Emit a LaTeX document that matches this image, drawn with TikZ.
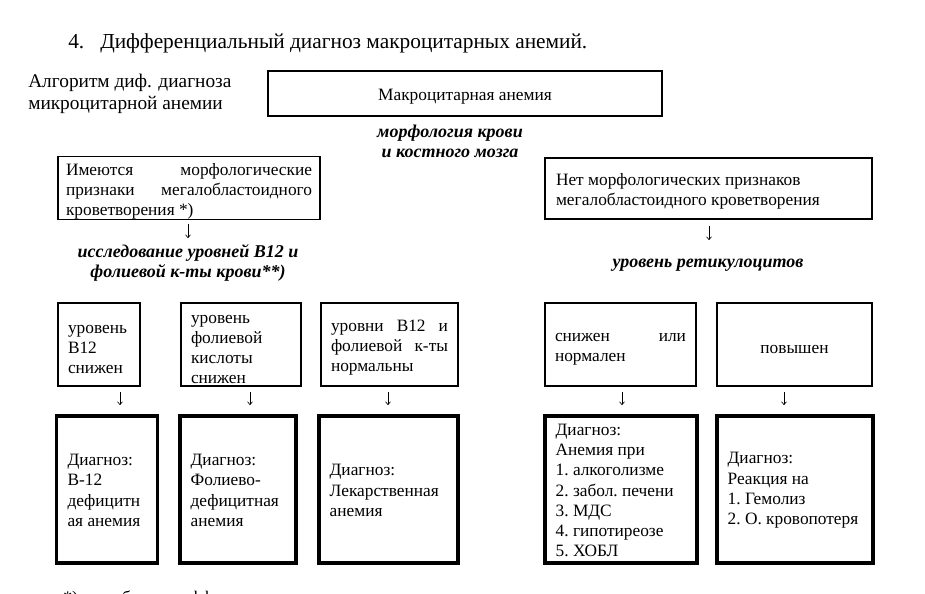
\documentclass[tikz,border=0pt]{standalone}
\usepackage{fontspec}
\setmainfont{Liberation Serif}
\usetikzlibrary{arrows.meta, positioning}

\begin{document}
\begin{tikzpicture}[x=0.75pt, y=-0.75pt,
thinbox/.style={rectangle, draw=black, line width=0.8pt, inner xsep=7.5pt, inner ysep=0pt,
font=\fontsize{13}{15}\selectfont, align=flush left, execute at begin node={\rule{0pt}{14pt}}},
thickbox/.style={rectangle, draw=black, line width=2.3pt, inner xsep=8pt, inner ysep=0pt,
minimum height=110.25pt, font=\fontsize{13}{15.2}\selectfont, align=flush left,
execute at begin node={\rule{0pt}{10pt}}},
plain/.style={inner sep=0pt, font=\fontsize{14.5}{16.5}\selectfont, align=left},
step note/.style={inner sep=0pt, font=\fontsize{13.5}{15}\selectfont\bfseries\itshape, align=center},
arrow/.style={-{To[length=2.6pt,width=4pt]}, line width=0.5pt}]
\useasboundingbox (0,0) rectangle (925,593);
\clip (0,0) rectangle (925,593);
\node[plain, anchor=base west, font=\fontsize{16}{19}\selectfont] (title) at (68,48)
    {4.\hspace{0.75em}Дифференциальный диагноз макроцитарных анемий.};
\node[plain, anchor=west] (algo) at (28,94)
    {Алгоритм диф. диагноза\\микроцитарной анемии};
\node[thinbox, minimum width=295.5pt, minimum height=33.75pt, align=center] (macro) at (465,93.5)
    {Макроцитарная анемия};
\node[step note] (morph) at (450,141) {морфология крови\\и костного мозга};
% left branch
\node[thinbox, text width=184.5pt, inner xsep=6pt, minimum height=46.5pt] (megaYes) at (189,188)
    {Имеются\hfill морфологические\\признаки\hfill мегалобластоидного\\кроветворения *)};
\node[step note] (study) at (188,263)
    {исследование уровней B12 и\\фолиевой к-ты крови**)};
% right branch
\node[thinbox, text width=228.75pt, inner xsep=8.25pt, minimum height=45.75pt] (megaNo) at (708.5,188.5)
    {Нет морфологических признаков\\мегалобластоидного кроветворения};
\node[step note] (retic) at (708,265) {уровень ретикулоцитов};
\coordinate (s1) at (188,224);
\coordinate (e1) at (188,238);
\coordinate (s2) at (709,226);
\coordinate (e2) at (709,240);
\draw[arrow] (s1) -- (e1);
\draw[arrow] (s2) -- (e2);
% levels
\node[thinbox, text width=46.5pt, minimum height=62.25pt] (lowB) at (99,344.5)
    {уровень\\B12\\снижен};
\node[thinbox, text width=75pt, minimum height=62.25pt] (lowF) at (241,344.5)
    {уровень\\фолиевой\\кислоты\\снижен};
\node[thinbox, text width=87.75pt, minimum height=62.25pt] (normBF) at (389.5,344.5)
    {уровни\hfill B12\hfill и\\фолиевой\hfill к-ты\\нормальны};
\node[thinbox, text width=98.25pt, minimum height=62.25pt] (retLow) at (620.5,344.5)
    {снижен\hfill или\\нормален};
\node[thinbox, text width=101.25pt, minimum height=62.25pt, align=center] (retHigh) at (794.5,344.5)
    {повышен};
\foreach \x/\n in {120/1, 250/2, 388/3, 622/4, 784/5} {
    \coordinate (up\n) at (\x,392);
    \coordinate (dn\n) at (\x,405);
    \draw[arrow] (up\n) -- (dn\n);
}
% diagnoses
\node[thickbox, text width=59.25pt] (dxB) at (107,489.5)
    {Диагноз:\\B-12\\дефицитн\\ая анемия};
\node[thickbox, text width=71pt] (dxF) at (238,489.5)
    {Диагноз:\\Фолиево-\\дефицитная\\анемия};
\node[thickbox, text width=88.25pt] (dxDrug) at (388.5,489.5)
    {Диагноз:\\Лекарственная\\анемия};
\node[thickbox, text width=98pt] (dxOther) at (621,489.5)
    {Диагноз:\\Анемия при\\1.~алкоголизме\\2.~забол.~печени\\3.~МДС\\4.~гипотиреозе\\5.~ХОБЛ};
\node[thickbox, text width=101pt] (dxReact) at (795,489.5)
    {Диагноз:\\Реакция на\\1.~Гемолиз\\2.~О.~кровопотеря};
\node[plain, anchor=base west, font=\fontsize{13.3}{15}\selectfont] (foot) at (63,603)
    {*) см таблицу дифференциальных признаков};
\end{tikzpicture}
\end{document}
